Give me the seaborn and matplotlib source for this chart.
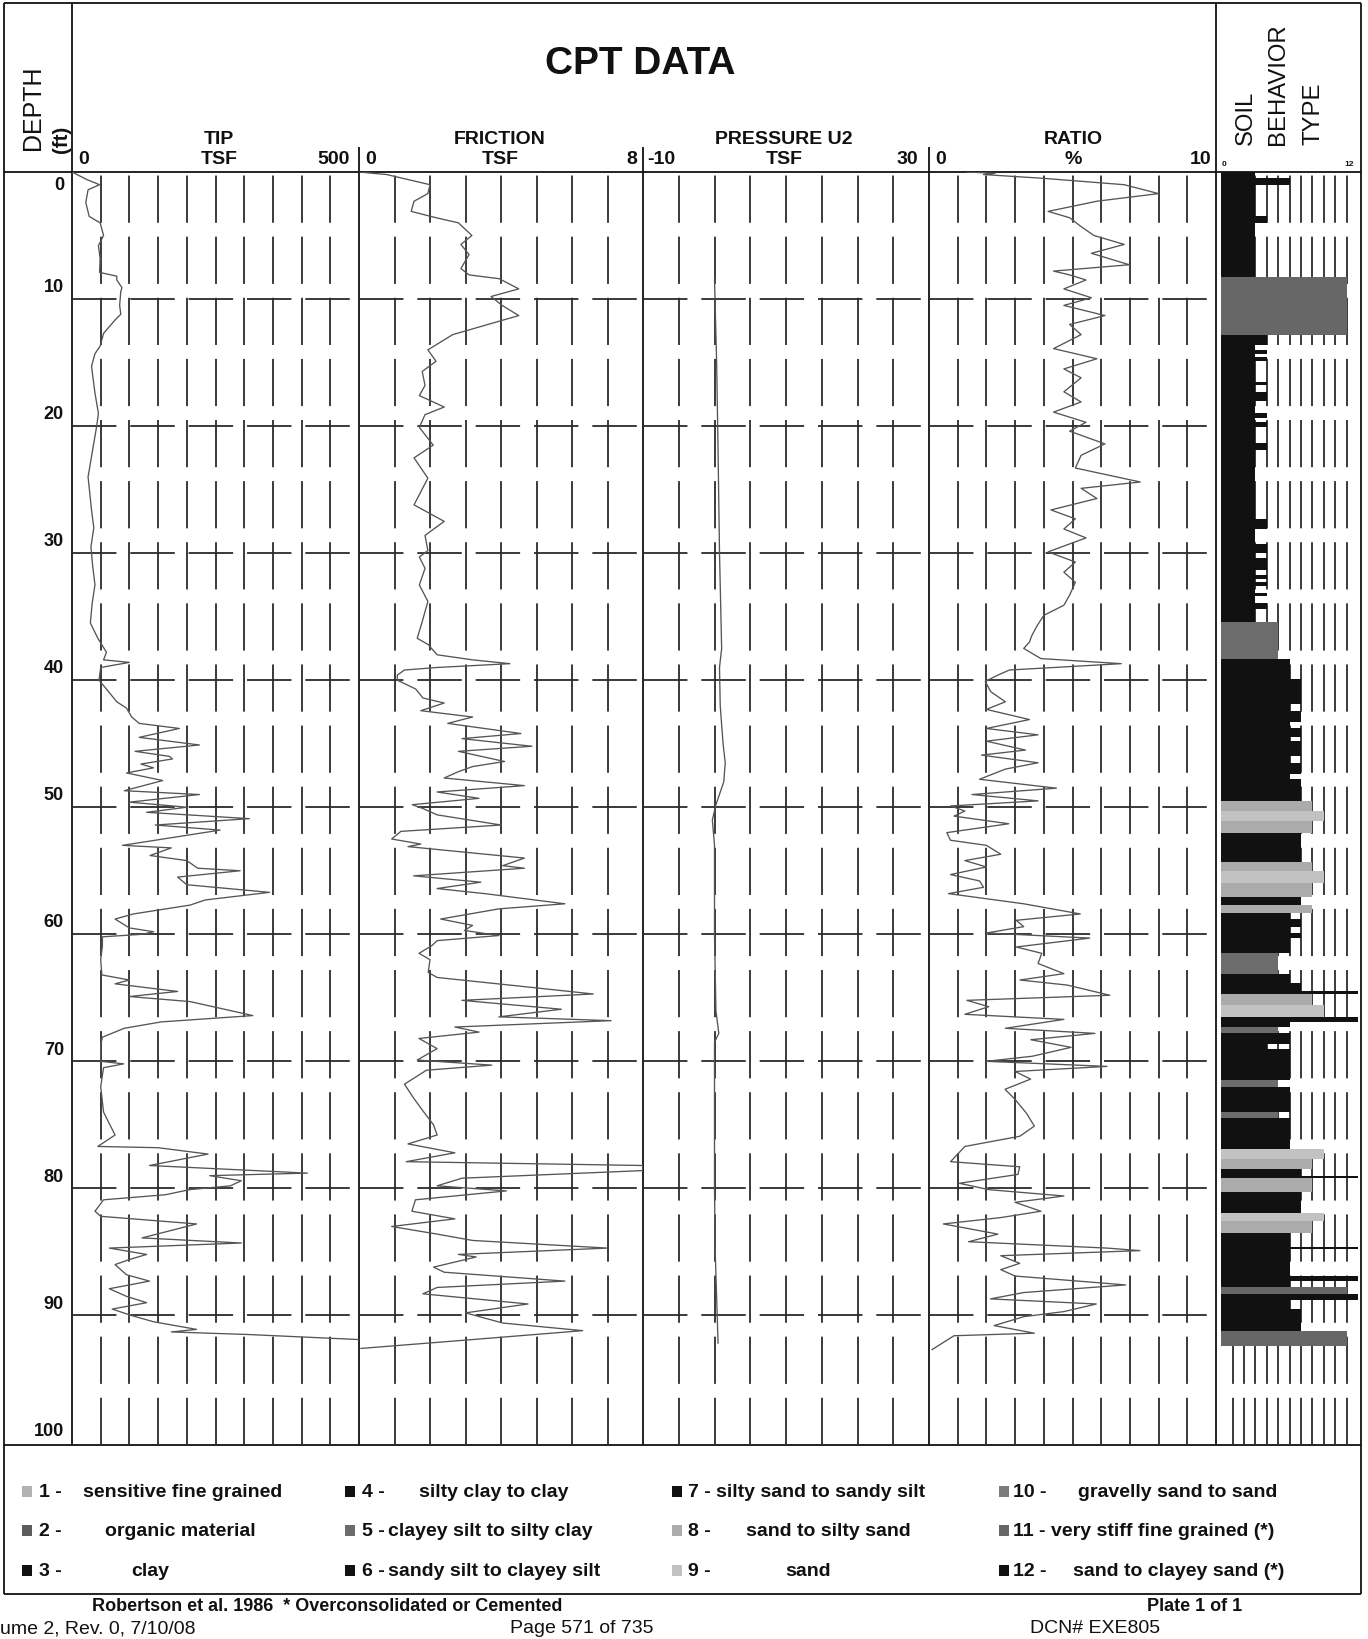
import matplotlib
matplotlib.use("Agg")
import matplotlib.pyplot as plt
from matplotlib import font_manager, transforms
from matplotlib.patches import Rectangle
import seaborn as sns

# ---------------------------------------------------------------- data
tip_depth = [0.0, 0.6, 1.0, 1.4, 2.4, 3.5, 4.0, 5.0, 5.8, 6.8, 7.9, 8.2, 8.5, 9.1, 9.4,
             10.5, 11.2, 11.6, 12.7, 13.7, 14.3, 15.3, 17.4, 19.0, 20.0, 21.6, 24.0,
             25.3, 26.6, 28.0, 29.5, 31.0, 32.5, 34.0, 35.5, 36.7, 37.8, 38.4, 38.6,
             39.0, 40.0, 40.7, 41.7, 42.2, 42.9, 43.4, 43.8, 44.5, 45.1, 45.6, 46.0,
             46.2, 46.6, 46.9, 47.3, 47.9, 48.7, 49.0, 49.6, 50.0, 50.4, 50.9, 51.4,
             51.8, 53.0, 53.2, 53.8, 54.2, 54.8, 55.0, 55.5, 56.1, 56.7, 57.3, 57.7,
             58.4, 58.8, 59.5, 59.8, 60.0, 60.2, 60.9, 62.0, 63.2, 63.6, 63.9, 64.5,
             64.9, 65.3, 65.9, 66.4, 66.9, 67.4, 68.1, 68.7, 70.0, 70.2, 70.5, 72.0,
             74.0, 75.8, 76.7, 76.8, 77.3, 78.2, 78.8, 79.0, 79.4, 79.8, 80.1, 80.5,
             80.9, 81.8, 82.2, 82.8, 83.9, 84.3, 84.7, 85.2, 85.6, 86.0, 86.8, 87.3,
             87.9, 88.5, 89.0, 89.5, 90.0, 90.5, 91.1, 91.3, 91.5, 91.9]
tip_tsf = [0, 26, 48, 28, 24, 30, 49, 55, 46, 49, 48, 78, 78, 87, 85,
           83, 85, 76, 55, 49, 40, 34, 40, 46, 43, 37, 28,
           31, 34, 38, 33, 36, 40, 35, 32, 45, 60, 55, 100,
           50, 47, 60, 78, 95, 104, 117, 187, 117, 222, 110, 170,
           175, 120, 142, 95, 158, 91, 222, 100, 200, 130, 309, 145,
           258, 88, 173, 136, 200, 219, 293, 184, 200, 344, 232, 206,
           107, 75, 100, 142, 123, 53, 53, 50, 52, 100, 75, 184,
           100, 206, 265, 315, 155, 91, 53, 50, 50, 90, 55, 50,
           55, 75, 45, 150, 237, 135, 410, 240, 295, 276, 205, 163,
           55, 40, 50, 217, 122, 295, 65, 130, 100, 75, 95, 135,
           65, 95, 130, 70, 103, 142, 217, 173, 305, 500]

fric_depth = [0.0, 0.2, 0.8, 1.0, 1.7, 2.3, 3.1, 3.6, 4.0, 5.0, 5.7, 6.5, 7.6, 8.1, 8.4,
              9.2, 9.8, 10.5, 11.3, 11.8, 12.3, 12.8, 13.6, 14.0, 14.9, 15.7, 16.8,
              17.6, 18.5, 19.1, 20.1, 21.5, 22.5, 24.1, 25.4, 26.2, 27.5, 28.6, 29.8,
              30.3, 31.2, 32.5, 33.8, 35.4, 36.7, 37.2, 38.0, 38.4, 38.7, 39.0, 39.2,
              39.6, 40.0, 40.7, 41.4, 41.8, 42.4, 42.9, 43.4, 44.2, 44.6, 45.2, 45.6,
              46.4, 46.8, 47.2, 47.7, 48.3, 48.8, 49.3, 49.8, 50.1, 50.6, 51.4, 51.9,
              52.5, 52.9, 53.1, 54.0, 54.6, 54.8, 55.4, 55.9, 56.4, 56.8, 57.6, 58.0,
              58.8, 59.3, 59.7, 60.1, 60.5, 60.9, 61.5, 62.0, 63.0, 63.4, 64.0, 64.7,
              65.2, 65.9, 66.5, 66.8, 67.3, 67.7, 68.2, 69.0, 69.9, 70.3, 70.7, 71.8,
              72.9, 73.9, 75.0, 75.8, 76.5, 77.2, 77.9, 78.2, 78.6, 79.2, 79.8, 80.2,
              80.9, 81.8, 82.4, 83.0, 83.6, 84.1, 84.7, 85.2, 85.4, 86.2, 86.6, 87.3,
              87.8, 88.3, 89.1, 89.8, 90.6, 91.2, 91.9, 92.6]
fric_tsf = [0.0, 0.78, 1.7, 2.0, 1.94, 1.55, 1.47, 2.17, 2.8, 3.18, 2.87, 3.1, 2.87, 3.1, 3.95,
            4.5, 3.72, 4.03, 4.5, 3.88, 3.26, 2.64, 2.17, 1.94, 2.17, 1.78, 1.86,
            1.7, 2.4, 1.86, 1.7, 2.09, 1.55, 1.94, 1.7, 1.55, 2.4, 1.86, 1.94,
            1.7, 1.86, 1.7, 1.94, 1.78, 1.64, 1.95, 2.2, 3.2, 4.25, 2.2, 1.28,
            1.08, 1.08, 1.6, 1.8, 2.4, 1.74, 3.2, 2.5, 4.56, 2.9, 4.87, 2.8,
            4.1, 3.2, 2.8, 2.4, 4.66, 2.2, 3.38, 1.5, 1.8, 2.2, 4.0, 1.18,
            0.92, 1.74, 1.38, 4.66, 4.05, 4.66, 1.54, 3.43, 2.2, 3.54, 5.8, 3.94,
            2.3, 3.2, 2.97, 3.94, 2.2, 2.05, 1.69, 2.0, 1.95, 2.2, 4.25, 6.6,
            2.9, 5.7, 3.94, 7.1, 2.7, 3.38, 1.69, 2.2, 1.64, 3.74, 1.9, 1.28,
            1.54, 1.8, 2.1, 2.2, 1.38, 2.7, 1.33, 8.0, 8.0, 2.9, 2.2, 4.15,
            1.59, 1.49, 2.7, 0.92, 2.2, 3.2, 7.0, 2.8, 3.3, 2.1, 2.4, 5.8,
            2.2, 1.8, 4.76, 3.0, 4.05, 6.3, 3.2, 0.05]

u2_depth = [8.4, 15.0, 22.0, 30.0, 37.5, 39.0, 42.0, 45.0, 46.5, 48.0, 49.8, 51.0,
            53.0, 56.0, 60.0, 66.0, 67.8, 68.5, 75.0, 80.0, 85.0, 92.2]
u2_tsf = [0.0, 0.3, 0.5, 0.7, 1.0, 0.7, 0.8, 1.2, 1.5, 1.3, 0.2, -0.3,
          0.0, 0.0, 0.0, 0.2, 0.6, 0.0, 0.0, 0.0, 0.1, 0.5]

ratio_depth = [0.0, 0.1, 0.2, 0.5, 1.0, 1.7, 2.3, 3.1, 3.6, 4.3, 5.0, 5.7, 6.4, 7.3, 7.8,
               8.1, 8.5, 9.2, 9.9, 10.5, 11.3, 12.0, 12.8, 13.9, 14.7, 15.5, 16.2,
               17.3, 18.1, 18.9, 19.7, 20.4, 21.4, 22.3, 23.3, 24.4, 24.9, 25.7, 26.6,
               27.3, 28.1, 28.8, 29.9, 30.7, 31.5, 32.3, 33.3, 34.1, 34.9, 35.7, 36.5,
               37.0, 37.5, 38.3, 38.7, 39.2, 39.6, 40.1, 40.9, 41.7, 42.3, 43.1, 43.8,
               44.3, 44.8, 45.5, 45.9, 46.5, 47.0, 47.8, 48.5, 49.0, 49.5, 49.9, 50.3,
               50.7, 51.3, 52.0, 52.6, 53.0, 53.7, 54.2, 54.7, 55.3, 55.8, 56.3, 56.8,
               57.6, 58.4, 58.9, 59.4, 59.9, 60.3, 61.0, 61.5, 62.3, 63.1, 63.6, 64.0,
               64.8, 65.2, 65.7, 66.3, 66.7, 67.4, 67.8, 68.3, 68.9, 69.6, 70.0, 70.4,
               70.8, 71.4, 72.2, 73.0, 74.1, 75.1, 75.9, 76.7, 77.9, 78.3, 78.9, 79.6,
               80.1, 80.6, 81.1, 81.8, 82.3, 82.8, 83.6, 84.2, 84.7, 84.9, 85.3, 85.9,
               86.4, 86.9, 87.6, 88.2, 88.7, 89.1, 89.7, 90.1, 90.8, 91.4, 91.6, 92.7]
ratio_pct = [1.3, 2.3, 1.9, 4.0, 6.8, 8.0, 5.85, 4.15, 4.9, 5.3, 5.75, 6.8, 5.66, 6.98, 4.34,
             4.9, 5.47, 4.7, 5.66, 4.7, 6.13, 4.9, 5.3, 4.34, 5.85, 4.7, 5.3,
             4.7, 5.3, 4.34, 5.47, 4.9, 6.13, 5.3, 5.1, 7.36, 5.3, 5.85, 4.25,
             5.1, 4.7, 5.47, 4.15, 5.1, 4.7, 5.1, 4.9, 4.7, 4.0, 3.77, 3.58,
             3.5, 3.3, 3.9, 6.7, 2.8, 2.4, 1.96, 2.15, 2.66, 2.0, 3.5, 2.0,
             3.8, 2.0, 3.36, 1.83, 3.8, 2.66, 1.76, 4.44, 1.5, 3.8, 0.75, 1.25,
             0.87, 2.78, 0.62, 0.75, 2.0, 2.5, 1.25, 2.0, 0.75, 1.76, 1.9, 0.68,
             3.3, 5.27, 3.04, 3.3, 2.0, 5.6, 3.04, 3.93, 3.8, 4.7, 3.17, 4.82,
             6.3, 1.32, 2.08, 1.25, 4.7, 2.66, 5.78, 3.55, 4.95, 3.6, 2.0, 6.2,
             3.0, 3.54, 2.65, 3.0, 3.4, 3.67, 3.16, 1.25, 0.75, 3.16, 3.1, 1.06,
             2.08, 4.7, 3.0, 3.9, 2.5, 0.5, 2.4, 1.38, 6.2, 7.35, 2.5, 3.16,
             2.5, 3.0, 6.85, 3.3, 2.14, 5.83, 4.7, 3.3, 2.27, 3.67, 0.87, 0.1]

# soil behaviour type zones: top depth of each layer and its zone number
sbt_top = [0.0, 0.5, 1.0, 3.5, 4.0, 8.3, 12.8, 13.6, 14.0, 14.3, 14.6, 14.9, 16.5, 16.8,
           17.3, 18.0, 19.0, 19.4, 19.7, 20.1, 21.3, 21.9, 27.3, 28.1, 29.3, 30.0, 30.4,
           31.3, 31.7, 32.0, 32.3, 32.6, 33.1, 33.4, 33.9, 34.4, 35.4, 38.3, 39.9, 41.9,
           42.4, 43.3, 43.8, 44.5, 44.8, 46.0, 46.5, 47.4, 47.8, 49.5, 50.3, 51.1, 52.0,
           54.3, 55.0, 56.0, 57.1, 57.7, 58.3, 58.8, 59.4, 59.9, 60.3, 61.5, 63.1, 63.8,
           64.5, 64.7, 65.6, 66.5, 66.9, 67.3, 67.8, 68.6, 69.0, 71.5, 72.0, 74.0, 74.5,
           76.9, 77.7, 78.5, 79.0, 79.2, 80.3, 81.9, 82.6, 83.5, 84.6, 84.8, 86.9, 87.3,
           87.8, 88.3, 88.8, 89.5, 91.2]
sbt_zone = [3, 6, 3, 4, 3, 11, 4, 3, 4, 3, 4, 3, 4, 3,
            4, 3, 4, 3, 4, 3, 4, 3, 4, 3, 4, 3, 4,
            3, 4, 3, 4, 3, 4, 3, 4, 3, 5, 6, 7, 6,
            7, 6, 7, 6, 7, 6, 7, 6, 7, 8, 9, 8, 7,
            8, 9, 8, 7, 8, 6, 7, 6, 7, 6, 5, 6, 7,
            12, 8, 9, 12, 6, 5, 6, 4, 6, 5, 6, 5, 6,
            9, 8, 7, 12, 8, 7, 9, 8, 6, 12, 6, 12, 6,
            11, 12, 6, 7, 11]
sbt_end = 92.4

zone_names = ["sensitive fine grained", "organic material", "clay",
              "silty clay to clay", "clayey silt to silty clay", "sandy silt to clayey silt",
              "silty sand to sandy silt", "sand to silty sand", "sand",
              "gravelly sand to sand", "very stiff fine grained (*)", "sand to clayey sand (*)"]
zone_colors = ["#b2b2b2", "#5c5c5c", "#111111", "#111111", "#6c6c6c", "#111111",
               "#111111", "#ababab", "#c2c2c2", "#7c7c7c", "#676767", "#111111"]

depth_ticks = [0, 10, 20, 30, 40, 50, 60, 70, 80, 90, 100]

# ---------------------------------------------------------------- style
sns.set_theme(style="white")
installed = {f.name for f in font_manager.fontManager.ttflist}
SANS = "Liberation Sans" if "Liberation Sans" in installed else "DejaVu Sans"
NARROW = "Liberation Sans Narrow" if "Liberation Sans Narrow" in installed else SANS
plt.rcParams["font.family"] = [SANS, "DejaVu Sans"]
plt.rcParams["lines.scale_dashes"] = False
rot_scale = 1.0 if NARROW != SANS else 0.82

INK = "#111111"
GRID = "#2b2b2b"
TRACE = "#555555"

W, H = 1368, 1640
TOP, BOT = 173, 1446
DEPTH_MAX = 100.2

fig = plt.figure(figsize=(W / 100, H / 100), dpi=100)
fig.patch.set_facecolor("white")
page = fig.add_axes([0, 0, 1, 1])
page.set_xlim(0, W)
page.set_ylim(H, 0)
page.axis("off")


def track(x0, x1):
    ax = fig.add_axes([x0 / W, 1 - BOT / H, (x1 - x0) / W, (BOT - TOP) / H])
    ax.patch.set_alpha(0)
    ax.axis("off")
    return ax


def finish(ax, xlim):
    ax.set_xlim(*xlim)
    ax.set_ylim(DEPTH_MAX, 0)
    ax.axis("off")


VDASH = (0, (34, 10))
HDASH = (0, (32, 10))

tracks = [
    (72, 359, (0, 500), [50, 100, 150, 200, 250, 300, 350, 400, 450], tip_tsf, tip_depth),
    (359, 643, (0, 8), [1, 2, 3, 4, 5, 6, 7], fric_tsf, fric_depth),
    (643, 929, (-10, 30), [-5, 0, 5, 10, 15, 20, 25], u2_tsf, u2_depth),
    (929, 1216, (0, 10), [1, 2, 3, 4, 5, 6, 7, 8, 9], ratio_pct, ratio_depth),
]
axes = []
for x0, x1, xlim, grid, xs, ys in tracks:
    ax = track(x0, x1)
    for g in grid:
        ax.axvline(g, color=GRID, lw=1.3, ls=VDASH, zorder=1)
    for d in depth_ticks[1:-1]:
        ax.axhline(d, color=GRID, lw=1.3, ls=HDASH, zorder=1)
    sns.lineplot(x=xs, y=ys, sort=False, estimator=None, ax=ax,
                 color=TRACE, lw=0.95, zorder=3)
    finish(ax, xlim)
    axes.append(ax)
ax_tip = axes[0]

# soil behaviour type column
ax_sbt = track(1216, 1358)
for g in range(1, 12):
    ax_sbt.axvline(g, color=GRID, lw=1.3, ls=VDASH, zorder=1)
sbt_bottom = sbt_top[1:] + [sbt_end]
ax_sbt.barh(y=sbt_top, width=sbt_zone,
            height=[b - t for t, b in zip(sbt_top, sbt_bottom)],
            left=0, align="edge", zorder=2, linewidth=0,
            color=[zone_colors[z - 1] for z in sbt_zone])
finish(ax_sbt, (-0.45, 12))

# ---------------------------------------------------------------- frame
L, R = 4, 1361
frame = dict(color=INK, lw=1.3, solid_capstyle="butt")
page.plot([L, R], [4, 4], **frame)
page.plot([L, R], [TOP, TOP], **frame)
page.plot([L, R], [BOT, BOT], **frame)
page.plot([L, R], [1595, 1595], **frame)
page.plot([L, L], [4, 1595], **frame)
page.plot([R, R], [4, 1595], **frame)
page.plot([72, 72], [4, BOT], **frame)
page.plot([1216, 1216], [4, BOT], **frame)
for x in (359, 643, 929):
    page.plot([x, x], [148, BOT], **frame)

# ---------------------------------------------------------------- header text
bold = dict(fontweight="bold", color=INK)
page.text(640, 64, "CPT DATA", fontsize=28, ha="center", va="center", **bold)

hdr = 14
row1, row2 = 139, 160
for cx, name, unit in [(219, "TIP", "TSF"), (500, "FRICTION", "TSF"),
                       (784, "PRESSURE U2", "TSF"), (1073, "RATIO", "%")]:
    page.text(cx, row1, name, fontsize=hdr, ha="center", va="center", **bold)
    page.text(cx, row2, unit, fontsize=hdr, ha="center", va="center", **bold)
for x, s, ha in [(78, "0", "left"), (350, "500", "right"), (365, "0", "left"),
                 (637, "8", "right"), (647, "-10", "left"), (918, "30", "right"),
                 (935, "0", "left"), (1211, "10", "right")]:
    page.text(x, row2, s, fontsize=hdr, ha=ha, va="center", **bold)
page.text(1222, 165, "0", fontsize=6, ha="left", va="center", **bold)
page.text(1354, 165, "12", fontsize=6, ha="right", va="center", **bold)

page.text(33, 108, "DEPTH", fontsize=22 * rot_scale, rotation=90, ha="center",
          va="center", family=[NARROW, "DejaVu Sans"], color=INK)
page.text(62, 139, "(ft)", fontsize=18 * rot_scale, rotation=90, ha="center",
          va="center", family=[NARROW, "DejaVu Sans"], fontweight="bold", color=INK)
for x, s in [(1246, "SOIL"), (1278, "BEHAVIOR"), (1313, "TYPE")]:
    page.text(x, 145, s, fontsize=21 * rot_scale, rotation=90, ha="center",
              va="bottom", family=[NARROW, "DejaVu Sans"], color=INK)

# depth labels on the left column
dtrans = transforms.blended_transform_factory(page.transData, ax_tip.transData)
for d in depth_ticks:
    if d == 0:
        page.text(64, 0.35, "0", transform=dtrans, fontsize=13, ha="right",
                  va="top", **bold)
    else:
        page.text(64, d - 0.3, str(d), transform=dtrans, fontsize=13, ha="right",
                  va="bottom", **bold)

# ---------------------------------------------------------------- legend
col_sq = [22, 345, 672, 999]
col_num = [39, 362, 688, 1013]
col_txt = [[83, 105, 131], [419, 388, 388], [716, 746, 785], [1078, 1051, 1073]]
row_y = [1493, 1532, 1572]
for z in range(12):
    c, r = divmod(z, 3)
    y = row_y[r]
    page.add_patch(Rectangle((col_sq[c], y - 6), 10, 11, color=zone_colors[z], lw=0))
    page.text(col_num[c], y, f"{z + 1} -", fontsize=14, ha="left", va="center", **bold)
    page.text(col_txt[c][r], y, zone_names[z], fontsize=14, ha="left", va="center", **bold)

# ---------------------------------------------------------------- footer
page.text(92, 1607, "Robertson et al. 1986  * Overconsolidated or Cemented", fontsize=13,
          ha="left", va="center", **bold)
page.text(1147, 1607, "Plate 1 of 1", fontsize=13, ha="left", va="center", **bold)
page.text(0, 1629, "ume 2, Rev. 0, 7/10/08", fontsize=14, ha="left", va="center", color=INK)
page.text(510, 1629, "Page 571 of 735", fontsize=14, ha="left", va="center", color=INK)
page.text(1030, 1629, "DCN# EXE805", fontsize=14, ha="left", va="center", color=INK)

fig.savefig("out.png", dpi=100, facecolor="white")
